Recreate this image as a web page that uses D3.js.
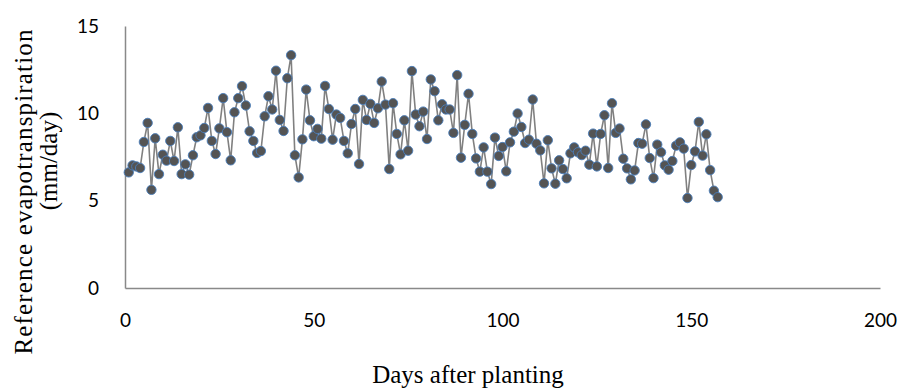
<!DOCTYPE html>
<html>
<head>
<meta charset="utf-8">
<script src="https://cdn.jsdelivr.net/npm/d3@7"></script>
<style>
  body { margin: 0; background: #fff; }
  svg { display: block; }
</style>
</head>
<body>
<svg id="chart" width="904" height="390"></svg>
<script>
// reference ET per day (days 1..157)
const days = d3.range(1, 158);
const et0 = [
  6.62, 7.02, 6.96, 6.87, 8.36, 9.45, 5.62, 8.57, 6.52, 7.63,
  7.29, 8.42, 7.27, 9.20, 6.52, 7.08, 6.49, 7.60, 8.63, 8.74,
  9.16, 10.31, 8.42, 7.67, 9.14, 10.87, 8.92, 7.31, 10.06, 10.87,
  11.56, 10.45, 8.97, 8.42, 7.73, 7.84, 9.83, 10.98, 10.22, 12.44,
  9.62, 8.99, 12.01, 13.33, 7.60, 6.33, 8.51, 11.36, 9.60, 8.69,
  9.11, 8.55, 11.57, 10.25, 8.49, 9.93, 9.74, 8.42, 7.71, 9.39,
  10.25, 7.10, 10.77, 9.62, 10.54, 9.45, 10.29, 11.82, 10.50, 6.81,
  10.58, 8.82, 7.65, 9.60, 7.86, 12.42, 9.93, 9.26, 10.10, 8.53,
  11.94, 11.27, 9.60, 10.52, 10.22, 10.22, 8.88, 12.19, 7.46, 9.34,
  11.12, 8.82, 7.42, 6.66, 8.05, 6.66, 5.95, 8.61, 7.56, 8.07,
  6.68, 8.34, 8.95, 9.99, 9.22, 8.30, 8.49, 10.79, 8.26, 7.88,
  5.99, 8.46, 6.85, 5.97, 7.31, 6.81, 6.28, 7.71, 8.05, 7.77,
  7.61, 7.86, 7.06, 8.84, 6.96, 8.82, 9.89, 6.87, 10.58, 8.88,
  9.13, 7.40, 6.85, 6.22, 6.73, 8.30, 8.26, 9.37, 7.44, 6.29,
  8.21, 7.77, 7.02, 6.77, 7.27, 8.15, 8.34, 7.98, 5.15, 7.04,
  7.82, 9.51, 7.58, 8.80, 6.75, 5.57, 5.20
];
const xTicks = [0, 50, 100, 150, 200];
const yTicks = [0, 5, 10, 15];

const data = days.map((d, i) => ({ day: d, et: et0[i] }));

const svg = d3.select("#chart");
const axisColor = "#898989";

const x = d3.scaleLinear().domain([0, 200]).range([125, 880]);
const y = d3.scaleLinear().domain([0, 15]).range([288, 26]);

// axis lines, no tick marks
const xAxis = svg.append("g")
    .attr("transform", `translate(0,${y(0)})`)
    .call(d3.axisBottom(x).tickValues(xTicks).tickSize(0).tickPadding(26));
const yAxis = svg.append("g")
    .attr("transform", `translate(${x(0)},0)`)
    .call(d3.axisLeft(y).tickValues(yTicks).tickSize(0).tickPadding(26));

[xAxis, yAxis].forEach(g => {
    g.select(".domain").attr("stroke", axisColor).attr("stroke-width", 1.5);
    g.selectAll("text")
        .attr("fill", "#000")
        .style("font-family", "Lato, 'Open Sans', sans-serif")
        .style("font-size", "19px");
});

// series line
svg.append("path")
    .datum(data)
    .attr("fill", "none")
    .attr("stroke", "#808080")
    .attr("stroke-width", 1.6)
    .attr("d", d3.line().x(d => x(d.day)).y(d => y(d.et)));

// markers
svg.append("g")
    .selectAll("circle")
    .data(data)
    .enter()
    .append("circle")
    .attr("cx", d => x(d.day))
    .attr("cy", d => y(d.et))
    .attr("r", 4.7)
    .attr("fill", "#545454")
    .attr("stroke", "#4a7ebb")
    .attr("stroke-width", 0.9);

// axis titles
const serif = "'Liberation Serif', 'Times New Roman', serif";
svg.append("text")
    .attr("x", 468)
    .attr("y", 383)
    .attr("text-anchor", "middle")
    .style("font-family", serif)
    .style("font-size", "25px")
    .text("Days after planting");

svg.append("text")
    .attr("transform", "translate(32,192) rotate(-90)")
    .attr("text-anchor", "middle")
    .attr("textLength", 325)
    .attr("lengthAdjust", "spacing")
    .style("font-family", serif)
    .style("font-size", "25px")
    .text("Reference evapotranspiration");
svg.append("text")
    .attr("transform", "translate(57,161) rotate(-90)")
    .attr("text-anchor", "middle")
    .style("font-family", serif)
    .style("font-size", "25px")
    .text("(mm/day)");
</script>
</body>
</html>
